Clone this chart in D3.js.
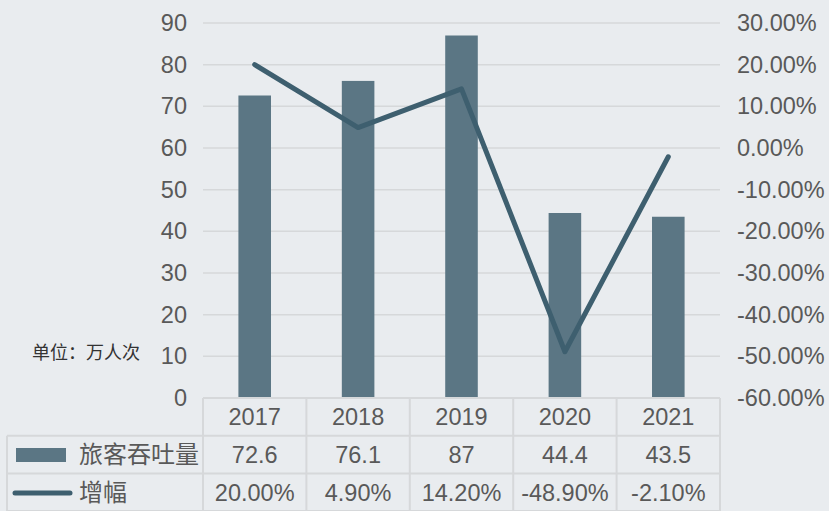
<!DOCTYPE html>
<html>
<head>
<meta charset="utf-8">
<script src="https://cdn.jsdelivr.net/npm/d3@7"></script>
<style>
  body { margin: 0; background: #e9ecef; }
  svg { display: block; font-family: "Liberation Sans", Arial, sans-serif; }
</style>
</head>
<body>
<div id="chart"></div>
<script>
// Chart data
const years = ["2017", "2018", "2019", "2020", "2021"];
const passengers = [72.6, 76.1, 87, 44.4, 43.5];
const growth = [20.0, 4.9, 14.2, -48.9, -2.1];
const passengerLabels = ["72.6", "76.1", "87", "44.4", "43.5"];
const growthLabels = ["20.00%", "4.90%", "14.20%", "-48.90%", "-2.10%"];
const leftTicks = [0, 10, 20, 30, 40, 50, 60, 70, 80, 90];
const rightTicks = [-60, -50, -40, -30, -20, -10, 0, 10, 20, 30];
const seriesNames = ["旅客吞吐量", "增幅"];
const unitLabel = "单位：万人次";

// Dimensions
let w = 829, h = 511;
let plotLeft = 203, plotRight = 720, plotTop = 23, plotBottom = 398;
let rowH = 37.7;
let barColor = "#5b7684", lineColor = "#3e5f6f", gridColor = "#d6d8da", textColor = "#595959";

let svg = d3.select("#chart").append("svg").attr("width", w).attr("height", h);
svg.append("rect").attr("width", w).attr("height", h).attr("fill", "#e9ecef");

// Scales
let xScale = d3.scaleBand().domain(years).range([plotLeft, plotRight]).paddingInner(0).paddingOuter(0);
let yLeft = d3.scaleLinear().domain([0, 90]).range([plotBottom, plotTop]);
let yRight = d3.scaleLinear().domain([-60, 30]).range([plotBottom, plotTop]);

// Gridlines
svg.append("g").selectAll("line").data(leftTicks.filter(d => d > 0)).join("line")
  .attr("x1", plotLeft).attr("x2", plotRight)
  .attr("y1", d => yLeft(d)).attr("y2", d => yLeft(d))
  .attr("stroke", gridColor).attr("stroke-width", 1.5);

// Left axis
let leftAxis = d3.axisLeft(yLeft).tickValues(leftTicks).tickSize(0).tickPadding(16);
let gl = svg.append("g").attr("transform", "translate(" + plotLeft + ",0)").call(leftAxis);
gl.select(".domain").remove();
gl.selectAll("text").attr("font-size", 23.5).attr("fill", textColor)
  .attr("font-family", "Liberation Sans, Arial, sans-serif");

// Right axis
let rightAxis = d3.axisRight(yRight).tickValues(rightTicks).tickSize(0).tickPadding(17)
  .tickFormat(d => d.toFixed(2) + "%");
let gr = svg.append("g").attr("transform", "translate(" + plotRight + ",0)").call(rightAxis);
gr.select(".domain").remove();
gr.selectAll("text").attr("font-size", 23.5).attr("fill", textColor)
  .attr("font-family", "Liberation Sans, Arial, sans-serif");

// Bars
let barW = xScale.bandwidth() * 0.315;
svg.append("g").selectAll("rect").data(years).join("rect")
  .attr("x", (d) => xScale(d) + xScale.bandwidth() / 2 - barW / 2)
  .attr("y", (d, i) => yLeft(passengers[i]))
  .attr("width", barW)
  .attr("height", (d, i) => yLeft(0) - yLeft(passengers[i]))
  .attr("fill", barColor);

// Line
let line = d3.line().x((d, i) => xScale(years[i]) + xScale.bandwidth() / 2).y(d => yRight(d));
svg.append("path").datum(growth).attr("d", line)
  .attr("fill", "none").attr("stroke", lineColor).attr("stroke-width", 5)
  .attr("stroke-linecap", "round").attr("stroke-linejoin", "round");

// Unit label
svg.append("text").attr("x", 32).attr("y", 359).text(unitLabel)
  .attr("font-size", 18).attr("fill", "#333")
  .attr("font-family", "Noto Sans CJK SC, sans-serif");

// Data table
let tableLeft = 7;
let rowTops = [plotBottom, plotBottom + rowH, plotBottom + rowH * 2, plotBottom + rowH * 3];
let tg = svg.append("g").attr("stroke", gridColor).attr("stroke-width", 2);
// horizontal lines
tg.append("line").attr("x1", plotLeft).attr("x2", plotRight).attr("y1", rowTops[0]).attr("y2", rowTops[0]);
[1, 2, 3].forEach((r) => {
  tg.append("line").attr("x1", tableLeft).attr("x2", plotRight).attr("y1", rowTops[r]).attr("y2", rowTops[r]);
});
// vertical lines
years.forEach((d) => {
  tg.append("line").attr("x1", xScale(d)).attr("x2", xScale(d)).attr("y1", rowTops[0]).attr("y2", h);
});
tg.append("line").attr("x1", plotRight).attr("x2", plotRight).attr("y1", rowTops[0]).attr("y2", h);
tg.append("line").attr("x1", tableLeft).attr("x2", tableLeft).attr("y1", rowTops[1]).attr("y2", h);

// Table text
let rows = [years, passengerLabels, growthLabels];
rows.forEach((vals, r) => {
  svg.append("g").selectAll("text").data(vals).join("text")
    .attr("x", (d, i) => xScale(years[i]) + xScale.bandwidth() / 2)
    .attr("y", rowTops[r] + rowH / 2)
    .attr("dy", "0.36em")
    .attr("text-anchor", "middle")
    .attr("font-size", 23.5).attr("fill", textColor)
    .text(d => d);
});

// Legend keys in table
svg.append("rect").attr("x", 16).attr("y", 448).attr("width", 50).attr("height", 14).attr("fill", barColor);
svg.append("line").attr("x1", 15).attr("x2", 70).attr("y1", 493).attr("y2", 493)
  .attr("stroke", lineColor).attr("stroke-width", 5).attr("stroke-linecap", "round");
seriesNames.forEach((name, i) => {
  svg.append("text").attr("x", 79).attr("y", rowTops[i + 1] + rowH / 2).attr("dy", "0.36em")
    .attr("font-size", 24).attr("fill", textColor)
    .attr("font-family", "Noto Sans CJK SC, sans-serif")
    .text(name);
});
</script>
</body>
</html>
